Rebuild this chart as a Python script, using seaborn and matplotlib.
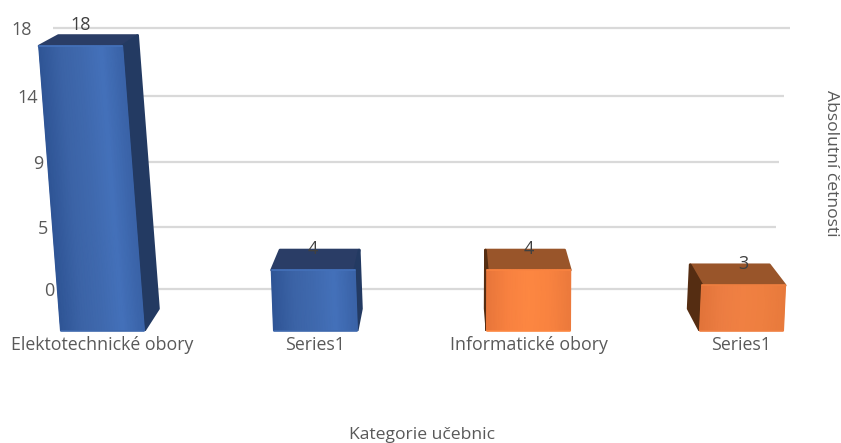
import numpy as np
import pandas as pd
import matplotlib
matplotlib.use("Agg")
import matplotlib.pyplot as plt
import seaborn as sns
from matplotlib.colors import LinearSegmentedColormap
from matplotlib.patches import Polygon
from matplotlib.transforms import Affine2D

# data
positions = [0, 1, 2, 3]
categories = ["Elektotechnické obory", "Series1", "Informatické obory", "Series1"]
groups = ["tech", "tech", "info", "info"]
counts = [18, 4, 4, 3]
grid_values = [18, 13.5, 9, 4.5, 0]
grid_labels = ["18", "14", "9", "5", "0"]

# look
W, H = 841, 443
TEXT = "#595959"
bar_col = {"tech": "#4070B8", "info": "#FD8741"}
tech_shades = ["#2F5596", "#3B63A6", "#3F69AE", "#4471BA", "#3A63A8"]
info_shades = ["#E8763A", "#F88140", "#FD8741", "#F98340", "#EC7A3C"]
far_shades = ["#E2743A", "#EC7D42", "#F08042", "#EE7F40", "#E87A3C"]
front_shades = [tech_shades, tech_shades, info_shades, far_shades]
top_col = {"tech": "#2A3D66", "info": "#99552A"}
side_col = {"tech": "#233A62", "info": "#552D12"}
grid_label_px = [32, 38, 43, 48, 54]   # right edge of the staggered tick labels
grid_start_px = [53, 60, 60, 60, 62]
grid_end_px = [790, 784, 779, 776, 773]

X0_PX, STEP_PX = 102.5, 213.0
FLOOR_PX = 331.0
VANISH = 1.90      # where the bars stop leaning, in category units
LEAN = 0.003
DEPTH_X = 1.63     # where the depth edges converge
DEPTH = 0.047


def bent_scale(bend):
    # the picture is in perspective: a unit gets slightly taller going up
    forward = lambda v: v + bend * v * v
    inverse = lambda s: (np.sqrt(np.maximum(1 + 4 * bend * s, 0)) - 1) / (2 * bend)
    return forward, inverse


sns.set_theme(style="white")
plt.rcParams['font.family'] = ['Open Sans', 'DejaVu Sans']

fig = plt.figure(figsize=(W / 100, H / 100), dpi=100)
ax = fig.add_axes([0, (H - FLOOR_PX) / H, 1, FLOOR_PX / H])

df = pd.DataFrame({"pos": positions, "count": counts, "group": groups})
sns.barplot(data=df, x="pos", y="count", hue="group", dodge=False, native_scale=True,
            width=0.39, palette=bar_col, legend=False, linewidth=0, ax=ax, zorder=3)

front_funcs = bent_scale(0.00276)
ax.set_yscale("function", functions=front_funcs)
ax.set_xlim(-X0_PX / STEP_PX, (W - X0_PX) / STEP_PX)
ax.set_ylim(0, float(front_funcs[1](FLOOR_PX / 15.08)))
ax.set_xticks(positions)
ax.set_xticklabels(categories, fontsize=12.8, color=TEXT)
ax.set_yticks([])
ax.minorticks_off()
ax.set_xlabel("")
ax.set_ylabel("")
ax.tick_params(axis="x", length=0, pad=3.5)
ax.patch.set_visible(False)
sns.despine(ax=ax, left=True, bottom=True)


def back_of(x, v):
    # point on the back of the bar, behind front point (x, v)
    return x + (DEPTH_X - x) * DEPTH, v + 0.63 + (18 - v) * 0.047


bars = sorted([p for p in ax.patches if p.get_height() > 0], key=lambda p: p.get_x())
for bar, group, value, shades in zip(bars, groups, counts, front_shades):
    left, right = bar.get_x(), bar.get_x() + bar.get_width()
    lean = ((left + right) / 2 - VANISH) * LEAN
    bar.set_transform(Affine2D(np.array([[1, lean, 0], [0, 1, 0], [0, 0, 1]])) + ax.transData)

    tl, tr = left + lean * value, right + lean * value
    top_face = [(tl, value), (tr, value), back_of(tr, value), back_of(tl, value)]
    ax.add_patch(Polygon(top_face, facecolor=top_col[group], edgecolor=top_col[group],
                         lw=2, joinstyle="round", zorder=2))

    # the side that can be seen depends on which way the bar sits from the middle
    sx_top, sx_low = (tr, right) if (left + right) / 2 < DEPTH_X else (tl, left)
    side_face = [(sx_top, value), back_of(sx_top, value), back_of(sx_low, 0), (sx_low, 0)]
    ax.add_patch(Polygon(side_face, facecolor=side_col[group], edgecolor=side_col[group],
                         lw=2, joinstyle="round", zorder=2))

    # shading across the front of the bar
    cmap = LinearSegmentedColormap.from_list(group + str(value), shades)
    edges = np.linspace(left, right, 33)
    mesh_x = np.vstack([edges, edges + lean * value])
    mesh_y = np.vstack([np.zeros(33), np.full(33, value)])
    shade = np.vstack([np.linspace(0, 1, 33)] * 2)
    ax.pcolormesh(mesh_x, mesh_y, shade, cmap=cmap, shading="gouraud", zorder=4)

    # soft outline over the mesh edges
    ax.plot([left, tl], [0, value], color=shades[0], lw=1.4, solid_capstyle="round", zorder=5)
    ax.plot([right, tr], [0, value], color=shades[-1], lw=1.4, solid_capstyle="round", zorder=5)
    ax.plot([tl, tr], [value, value], color=shades[3], lw=1.2, solid_capstyle="round", zorder=5)
    ax.plot([left, right], [0, 0], color=shades[2], lw=1.2, solid_capstyle="round",
            clip_on=False, zorder=5)

    ax.annotate(str(value), xy=((tl + tr) / 2, value), xytext=(0, 21 * 0.72),
                textcoords="offset points", ha="center", va="center",
                fontsize=13, color="#404040", zorder=6)

ax.set_xlim(-X0_PX / STEP_PX, (W - X0_PX) / STEP_PX)
ax.set_ylim(0, float(front_funcs[1](FLOOR_PX / 15.08)))

# the back wall is further away, so it has its own value scale
back = ax.twinx()
back_funcs = bent_scale(0.003365)
back.set_yscale("function", functions=back_funcs)
back.set_ylim(float(back_funcs[1]((289.3 - FLOOR_PX) / 13.7)), float(back_funcs[1](289.3 / 13.7)))
back.set_zorder(0)
ax.set_zorder(1)
back.grid(False)
back.hlines(grid_values, np.array(grid_start_px) / W, np.array(grid_end_px) / W,
            transform=back.get_yaxis_transform(), colors="#D9D9D9", lw=1.6)
back.yaxis.tick_left()
back.set_yticks(grid_values)
back.set_yticklabels(grid_labels, fontsize=13, color=TEXT, ha="right")
back.minorticks_off()
back.tick_params(axis="y", length=0, pad=0)
for label, px in zip(back.get_yticklabels(), grid_label_px):
    label.set_x(px / W)
sns.despine(ax=back, left=True, bottom=True, right=True, top=True)

fig.text(831 / W, 1 - 163 / H, "Absolutní četnosti", rotation=270, ha="center", va="center",
         fontsize=12.6, color=TEXT)
fig.text(422 / W, 1 - 435 / H, "Kategorie učebnic", ha="center", va="center",
         fontsize=12.6, color=TEXT)

fig.savefig("out.png", dpi=100)
